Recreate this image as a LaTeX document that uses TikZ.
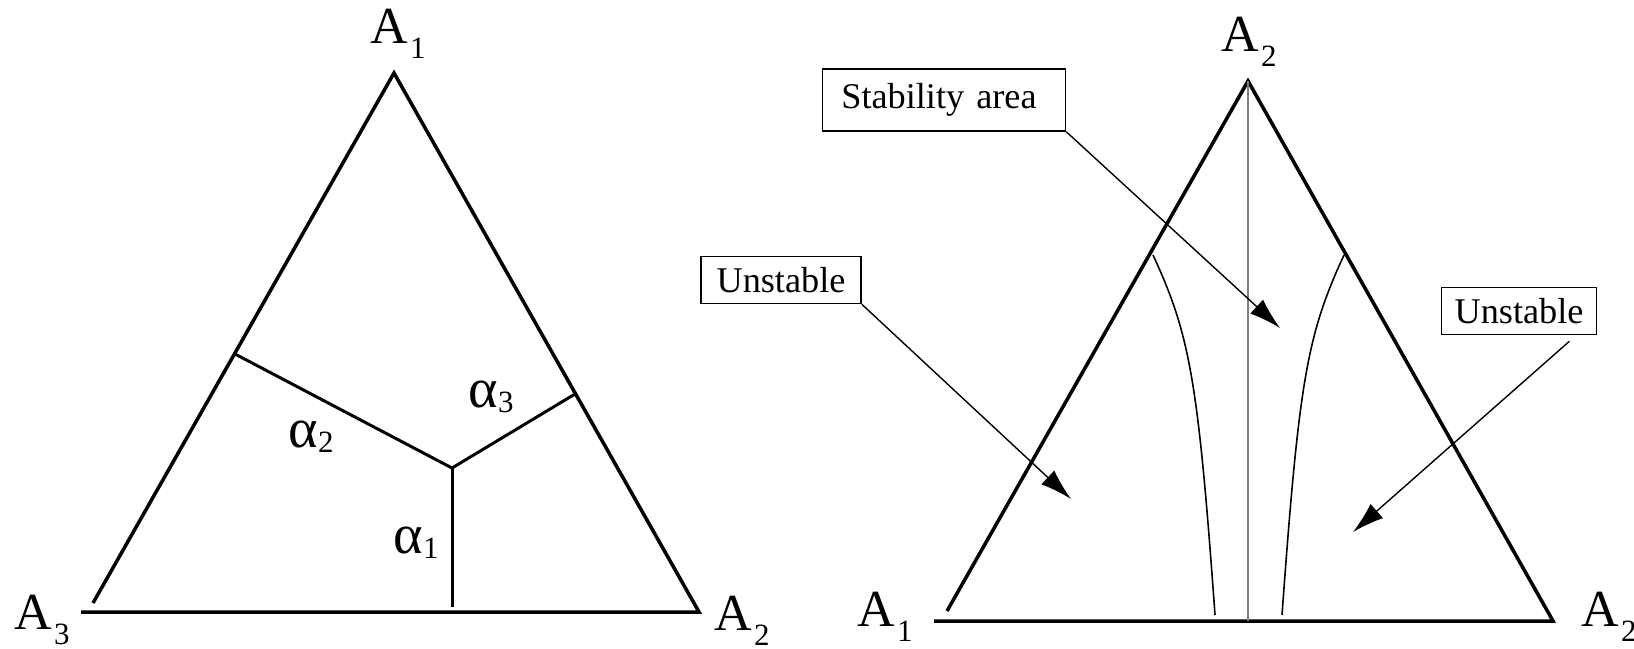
\documentclass[tikz,border=0pt]{standalone}
\usepackage{fontspec}
\setmainfont{Liberation Serif}
\usetikzlibrary{
  arrows.meta,
  calc,
  positioning}

\newcommand{\vsub}[1]{\kern0.5pt\raisebox{-4.3pt}{\fontsize{8.8}{10}\selectfont #1}}
\newcommand{\asub}[1]{\raisebox{-1.7pt}{\fontsize{8.8}{10}\selectfont #1}}

\tikzset{
  vertex/.style={anchor=base west,inner sep=0pt,font=\fontsize{14.8}{16}\selectfont},
  alpha label/.style={anchor=base west,inner sep=0pt,font=\fontsize{16}{18}\selectfont},
  tag/.style={draw,line width=0.45pt,inner sep=0pt,font=\fontsize{10.3}{12}\selectfont},
  side/.style={line width=1pt,line join=miter},
  pointer/.style={line width=0.4pt,-{Latex[length=9pt,width=5.4pt]}}
}

\begin{document}
\begin{tikzpicture}[
  x=0.01cm,y=-0.01cm
]%
  \useasboundingbox (0,0) rectangle (1634,648);

  % Left triangle
  \coordinate (L1) at (394,73);
  \coordinate (L2) at (699,612);
  \coordinate (L3) at (81,612);
  \coordinate (L3side) at (93,603);
  \draw[side] (L3side) -- (L1) -- (L2) -- (L3);

  % Separation lines
  \coordinate (P2) at (235,354);
  \coordinate (Pc) at (452,468);
  \coordinate (P3) at (575,394);
  \coordinate (P1) at (452,607);
  \draw[line width=0.85pt] (P2) -- (Pc) -- (P3);
  \draw[line width=0.85pt] (Pc) -- (P1);

  % Vertex and angle labels
  \node[vertex] (lA1) at (370,43) {A\vsub{1}};
  \node[vertex] (lA3) at (14,629) {A\vsub{3}};
  \node[vertex] (lA2) at (714,630) {A\vsub{2}};
  \node[alpha label] (a2) at (288,447) {α\asub{2}};
  \node[alpha label] (a3) at (468,407) {α\asub{3}};
  \node[alpha label] (a1) at (393,553) {α\asub{1}};

  % Right triangle
  \coordinate (R2top) at (1248,81);
  \coordinate (R2) at (1553,621);
  \coordinate (R1) at (934,621);
  \coordinate (R1side) at (947,611);
  \draw[side] (R1side) -- (R2top) -- (R2) -- (R1);
  \draw[gray,line width=0.35pt] (R2top) -- (R2top |- R1);

  % Stability borders
  \draw[line width=0.45pt] (1153,255) .. controls (1190,335) and (1198,380) .. (1215,615);
  \draw[line width=0.45pt] (1344,255) .. controls (1307,335) and (1299,380) .. (1282,615);

  \node[vertex] (rA2) at (1221,51) {A\vsub{2}};
  \node[vertex] (rA1) at (857,626) {A\vsub{1}};
  \node[vertex] (rA2b) at (1581,626) {A\vsub{2}};

  % Areas
  \node[tag,text width=2.05cm,inner xsep=0.19cm,minimum height=0.62cm] (stab) at (944,100) {Stability area};
  \node[tag,minimum width=1.60cm,minimum height=0.47cm] (unstL) at (781,280) {Unstable};
  \node[tag,minimum width=1.55cm,minimum height=0.47cm] (unstR) at (1519,311) {Unstable};

  \coordinate (stabTip) at (1280,328);
  \coordinate (unstLTip) at (1071,499);
  \coordinate (unstRTip) at (1353,532);
  \draw[pointer] (stab.south east) -- (stabTip);
  \draw[pointer] (unstL.south east) -- (unstLTip);
  \draw[pointer] ([xshift=-0.28cm,yshift=-0.06cm]unstR.south east) -- (unstRTip);
\end{tikzpicture}
\end{document}
